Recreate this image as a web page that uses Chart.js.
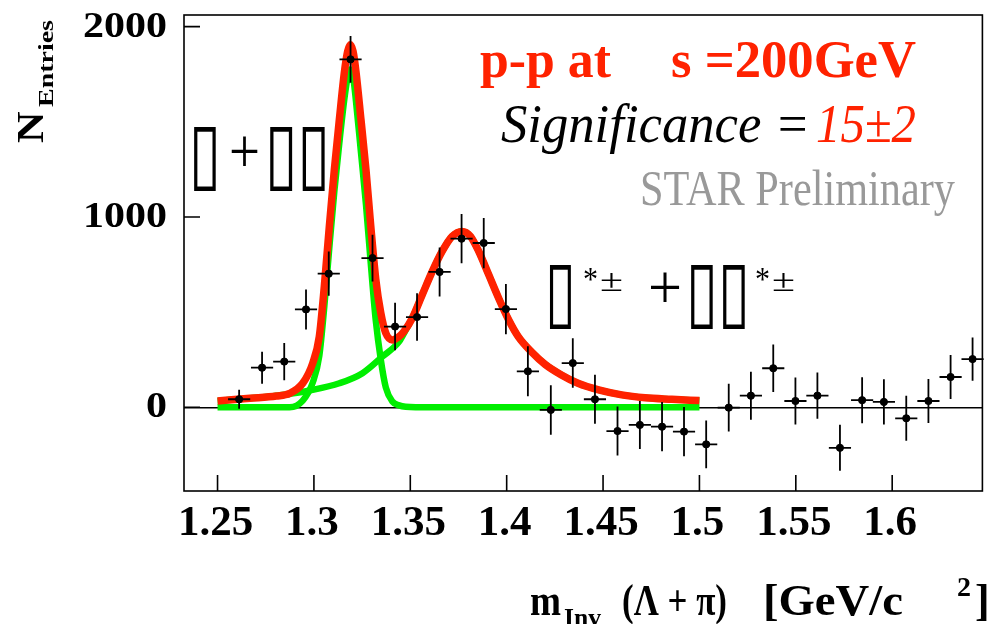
<!DOCTYPE html>
<html>
<head>
<meta charset="utf-8">
<script src="https://cdn.jsdelivr.net/npm/chart.js@4.4.1/dist/chart.umd.min.js"></script>
<style>
  html, body { margin: 0; padding: 0; background: #fff; overflow: hidden; }
  #wrap { width: 987px; height: 624px; }
</style>
</head>
<body>
<div id="wrap"><canvas id="massChart" width="987" height="624"></canvas></div>
<script>
// Lambda+pi invariant mass, entries per bin
const binCenters = [1.2612, 1.2731, 1.2846, 1.2959, 1.3077, 1.3190, 1.3304, 1.3421, 1.3535, 1.3652,
                    1.3766, 1.3881, 1.3996, 1.4110, 1.4229, 1.4343, 1.4458, 1.4575, 1.4691, 1.4806,
                    1.4920, 1.5035, 1.5152, 1.5267, 1.5383, 1.5498, 1.5612, 1.5729, 1.5844, 1.5957,
                    1.6073, 1.6188, 1.6303, 1.6417];
const entries = [42, 208, 240, 514, 702, 1828, 784, 424, 474, 711,
                 886, 863, 516, 189, -14, 232, 42, -125, -93, -102,
                 -128, -195, -2, 61, 205, 33, 61, -213, 37, 28,
                 -58, 33, 159, 253];
const entryErrors = [50, 84, 98, 105, 116, 123, 123, 125, 125, 129,
                     130, 132, 132, 131, 130, 130, 129, 129, 126, 129,
                     129, 126, 126, 126, 125, 123, 121, 121, 121, 119,
                     118, 116, 116, 114];
const binHalfWidth = 0.00575;

// total fit
const fitTotalX = [1.25, 1.2668, 1.2805, 1.2874, 1.2942, 1.2994, 1.3028, 1.3054, 1.3080, 1.3106,
                   1.3132, 1.3158, 1.3175, 1.3189, 1.3203, 1.3218, 1.3244, 1.3270, 1.3295, 1.3321,
                   1.3347, 1.3373, 1.3407, 1.3442, 1.3467, 1.3510, 1.3562, 1.3614, 1.3665, 1.3717,
                   1.3769, 1.3812, 1.3855, 1.3907, 1.3958, 1.4010, 1.4061, 1.4130, 1.4200, 1.4284,
                   1.4370, 1.4477, 1.4597, 1.4718, 1.4857, 1.5];
const fitTotalY = [33, 47, 59, 73, 126, 232, 372, 635, 951, 1249,
                   1512, 1760, 1870, 1905, 1870, 1765, 1512, 1249, 951, 672,
                   495, 389, 354, 372, 398, 468, 591, 714, 819, 898,
                   924, 898, 819, 696, 574, 460, 370, 290, 225, 170,
                   126, 91, 65, 50, 42, 35];

// narrow peak component
const fitNarrowX = [1.25, 1.2874, 1.2942, 1.2994, 1.3028, 1.3054, 1.3080, 1.3106, 1.3132, 1.3158,
                    1.3175, 1.3189, 1.3203, 1.3218, 1.3244, 1.3270, 1.3295, 1.3321, 1.3347, 1.3373,
                    1.3407, 1.3442, 1.3476, 1.36, 1.5];
const fitNarrowY = [0, 0, 35, 130, 270, 530, 840, 1135, 1390, 1620,
                    1735, 1775, 1740, 1610, 1340, 1065, 755, 455, 250, 104,
                    30, 10, 3, 0, 0];

// broad peak component
const fitBroadX = [1.25, 1.2668, 1.2805, 1.2874, 1.2977, 1.3132, 1.3252, 1.3355, 1.3442, 1.3476,
                   1.3510, 1.3562, 1.3614, 1.3665, 1.3717, 1.3769, 1.3812, 1.3855, 1.3907, 1.3958,
                   1.4010, 1.4061, 1.4130, 1.4200, 1.4284, 1.4370, 1.4477, 1.4597, 1.4718, 1.4857, 1.5];
const fitBroadY = [33, 47, 60, 70, 88, 126, 179, 266, 345, 405,
                   468, 591, 714, 819, 898, 924, 898, 819, 696, 574,
                   460, 370, 290, 225, 170, 126, 91, 65, 50, 42, 35];

const xTicks = [1.25, 1.3, 1.35, 1.4, 1.45, 1.5, 1.55, 1.6];
const yTicks = [0, 1000, 2000];

const RED = '#ff2200';
const GREEN = '#00ee00';
const SERIF = '"Liberation Serif", "Times New Roman", serif';

function pairs(xs, ys) {
  return xs.map((x, i) => ({ x: x, y: ys[i] }));
}

// text with optional horizontal stretch / fit width, optional rotation
function drawText(ctx, str, x, y, font, color, opts) {
  opts = opts || {};
  ctx.save();
  ctx.font = font;
  ctx.fillStyle = color;
  ctx.textBaseline = 'alphabetic';
  ctx.translate(x, y);
  if (opts.rotate) ctx.rotate(opts.rotate);
  const w = ctx.measureText(str).width;
  let sx = opts.sx || 1;
  if (opts.width) sx = opts.width / w;
  let dx = 0;
  if (opts.align === 'right') dx = -w * sx;
  else if (opts.align === 'center') dx = -w * sx / 2;
  ctx.translate(dx, 0);
  ctx.scale(sx, 1);
  ctx.fillText(str, 0, 0);
  ctx.restore();
}

const errorBars = {
  id: 'errorBars',
  afterDatasetsDraw(chart) {
    const ctx = chart.ctx;
    const xs = chart.scales.x, ys = chart.scales.y;
    ctx.save();
    ctx.strokeStyle = '#000';
    ctx.lineWidth = 1.8;
    binCenters.forEach((m, i) => {
      const px = xs.getPixelForValue(m);
      const py = ys.getPixelForValue(entries[i]);
      ctx.beginPath();
      ctx.moveTo(px, ys.getPixelForValue(entries[i] - entryErrors[i]));
      ctx.lineTo(px, ys.getPixelForValue(entries[i] + entryErrors[i]));
      ctx.moveTo(xs.getPixelForValue(m - binHalfWidth), py);
      ctx.lineTo(xs.getPixelForValue(m + binHalfWidth), py);
      ctx.stroke();
    });
    ctx.restore();
  }
};

const frameAndLabels = {
  id: 'frameAndLabels',
  afterDraw(chart) {
    const ctx = chart.ctx;
    const a = chart.chartArea;
    const xs = chart.scales.x, ys = chart.scales.y;

    ctx.save();
    ctx.strokeStyle = '#000';
    ctx.lineWidth = 1.6;
    ctx.strokeRect(a.left, a.top, a.right - a.left, a.bottom - a.top);

    // ticks pointing into the frame
    ctx.beginPath();
    xs.ticks.forEach(t => {
      const px = xs.getPixelForValue(t.value);
      ctx.moveTo(px, a.bottom);
      ctx.lineTo(px, a.bottom - 16);
    });
    ys.ticks.forEach(t => {
      const py = ys.getPixelForValue(t.value);
      ctx.moveTo(a.left, py);
      ctx.lineTo(a.left + 16, py);
    });
    ctx.stroke();
    ctx.restore();

    xs.ticks.forEach(t => {
      drawText(ctx, String(t.value), xs.getPixelForValue(t.value) - 2, 535,
               'bold 43px ' + SERIF, '#000', { align: 'center' });
    });
    ys.ticks.forEach(t => {
      drawText(ctx, String(t.value), 167, ys.getPixelForValue(t.value) + 10,
               'bold 35px ' + SERIF, '#000', { align: 'right', sx: 1.2 });
    });

    // y title
    drawText(ctx, 'N', 43, 143, 'bold 38px ' + SERIF, '#000', { rotate: -Math.PI / 2, sx: 1.15 });
    drawText(ctx, 'Entries', 53, 107, 'bold 20px ' + SERIF, '#000', { rotate: -Math.PI / 2, width: 87 });

    // x title
    drawText(ctx, 'm', 530, 615, 'bold 44px ' + SERIF, '#000', { width: 31 });
    drawText(ctx, 'Inv', 564, 626, 'bold 26px ' + SERIF, '#000', { width: 37 });
    drawText(ctx, '(\u039B + \u03C0)', 622, 615, 'bold 44px ' + SERIF, '#000', { width: 105 });
    drawText(ctx, '[GeV/c', 763, 615, 'bold 44px ' + SERIF, '#000', { width: 140 });
    drawText(ctx, '2', 957, 596, 'bold 28px ' + SERIF, '#000');
    drawText(ctx, ']', 975, 615, 'bold 44px ' + SERIF, '#000');

    // captions
    drawText(ctx, 'p-p at', 480, 77, 'bold 53px ' + SERIF, RED, { width: 131 });
    drawText(ctx, 's =200GeV', 671, 77, 'bold 53px ' + SERIF, RED, { width: 245 });
    drawText(ctx, 'Significance =', 501, 142, 'italic 54px ' + SERIF, '#000', { width: 309 });
    drawText(ctx, '15\u00B12', 816, 142, 'italic 54px ' + SERIF, RED, { width: 100 });
    drawText(ctx, 'STAR Preliminary', 640, 205, '50px ' + SERIF, '#999999', { width: 315 });

    // peak labels
    const box = 'bold 84px "DejaVu Sans"';
    drawText(ctx, '\u25AF', 189, 181, box, '#000', { width: 32 });
    drawText(ctx, '+', 229, 173, '64px ' + SERIF, '#000', { width: 31 });
    drawText(ctx, '\u25AF\u25AF', 265, 181, box, '#000', { width: 65 });

    drawText(ctx, '\u25AF', 545, 319, box, '#000', { width: 31 });
    drawText(ctx, '*', 583, 290, '34px ' + SERIF, '#000', { width: 15 });
    drawText(ctx, '\u00B1', 600, 291, '32px ' + SERIF, '#000', { width: 23 });
    drawText(ctx, '+', 648, 309, '64px ' + SERIF, '#000', { width: 34 });
    drawText(ctx, '\u25AF\u25AF', 686, 319, box, '#000', { width: 64 });
    drawText(ctx, '*', 755, 290, '34px ' + SERIF, '#000', { width: 15 });
    drawText(ctx, '\u00B1', 772, 291, '32px ' + SERIF, '#000', { width: 23 });
  }
};

new Chart(document.getElementById('massChart'), {
  type: 'scatter',
  data: {
    datasets: [
      {
        label: 'data',
        data: pairs(binCenters, entries),
        backgroundColor: '#000',
        borderColor: '#000',
        pointRadius: 3.6,
        pointHoverRadius: 3.6,
        showLine: false
      },
      {
        label: 'fit',
        data: pairs(fitTotalX, fitTotalY),
        borderColor: RED,
        borderWidth: 7.5,
        pointRadius: 0,
        showLine: true,
        cubicInterpolationMode: 'monotone',
        borderCapStyle: 'butt'
      },
      {
        label: 'narrow',
        data: pairs(fitNarrowX, fitNarrowY),
        borderColor: GREEN,
        borderWidth: 6.5,
        pointRadius: 0,
        showLine: true,
        cubicInterpolationMode: 'monotone'
      },
      {
        label: 'broad',
        data: pairs(fitBroadX, fitBroadY),
        borderColor: GREEN,
        borderWidth: 6.5,
        pointRadius: 0,
        showLine: true,
        cubicInterpolationMode: 'monotone'
      }
    ]
  },
  options: {
    responsive: false,
    animation: false,
    events: [],
    layout: { padding: { left: 184, right: 1, top: 15, bottom: 133 } },
    plugins: {
      legend: { display: false },
      tooltip: { enabled: false }
    },
    scales: {
      x: {
        type: 'linear',
        min: 1.2326,
        max: 1.6468,
        afterBuildTicks: (scale) => { scale.ticks = xTicks.map(v => ({ value: v })); },
        ticks: { display: false },
        grid: { display: false, drawTicks: false },
        border: { display: false }
      },
      y: {
        type: 'linear',
        min: -440,
        max: 2061,
        afterBuildTicks: (scale) => { scale.ticks = yTicks.map(v => ({ value: v })); },
        ticks: { display: false },
        grid: {
          drawTicks: false,
          lineWidth: 1.5,
          color: (c) => (c.tick && c.tick.value === 0 ? '#000' : 'rgba(0,0,0,0)')
        },
        border: { display: false }
      }
    }
  },
  plugins: [errorBars, frameAndLabels]
});
</script>
</body>
</html>
